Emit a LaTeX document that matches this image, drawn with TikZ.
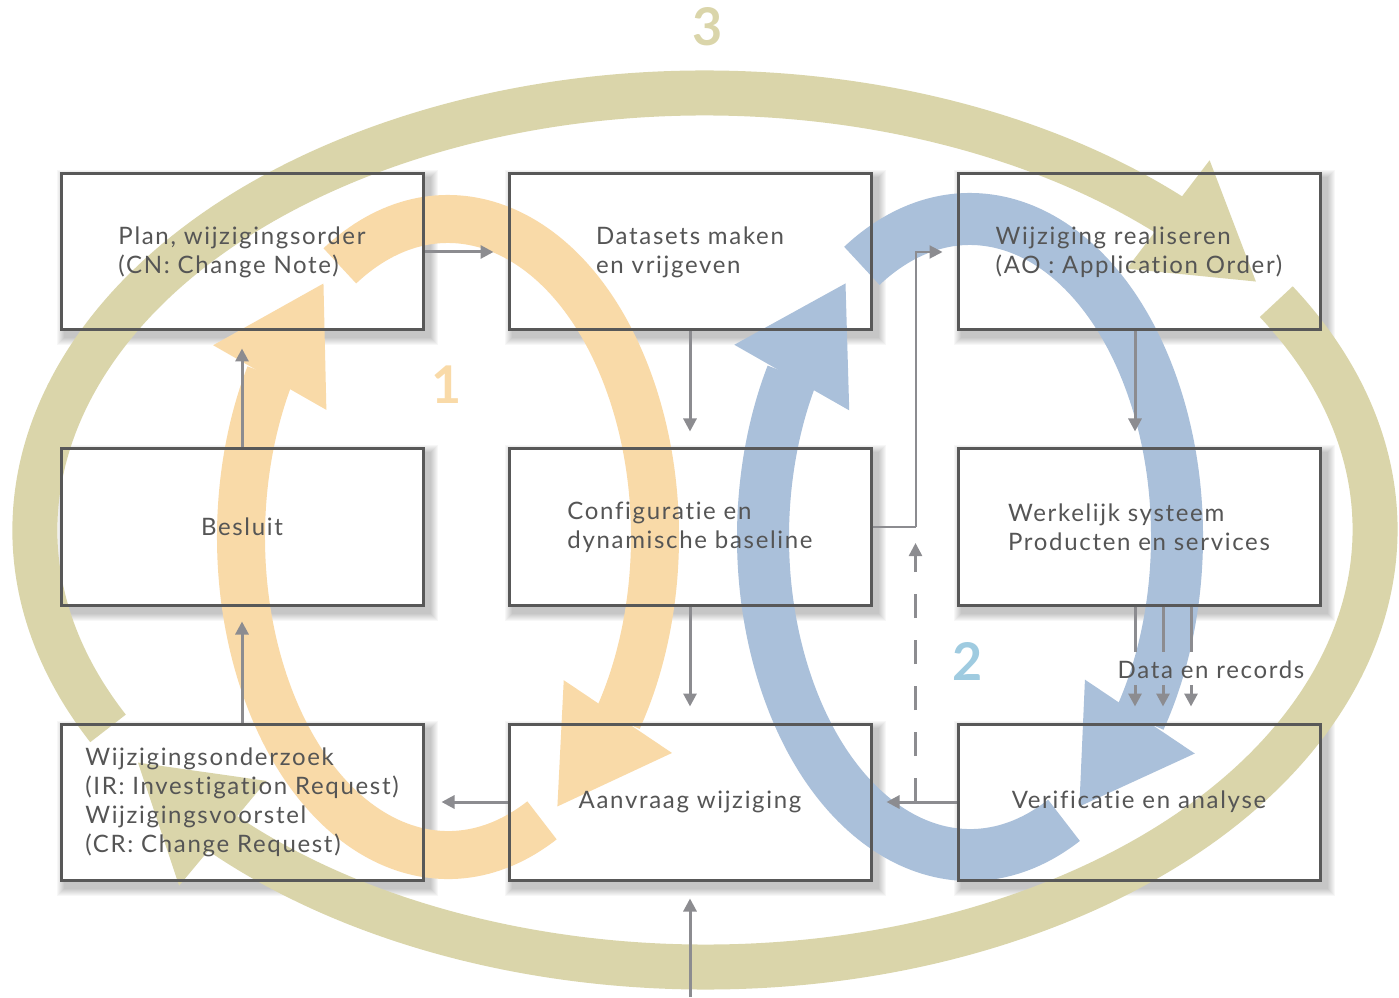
\documentclass[tikz,border=0pt]{standalone}
\usepackage{fontspec}
\setmainfont{Lato}[LetterSpace=7,Ligatures=NoCommon]
\usetikzlibrary{arrows.meta,calc,bending}
\pgfdeclarelayer{shadowl}
\pgfdeclarelayer{bandl}
\pgfdeclarelayer{frontl}
\pgfsetlayers{shadowl,main,bandl,frontl}
\definecolor{olivec}{HTML}{DAD5AA}
\definecolor{orangec}{HTML}{F9DAA8}
\definecolor{bluec}{HTML}{AAC0DA}
\definecolor{twoc}{HTML}{9FCBE0}
\definecolor{boxlc}{HTML}{585858}
\definecolor{txtc}{HTML}{555555}
\definecolor{connc}{HTML}{8C8C90}
\tikzset{
  boxnode/.style={draw=boxlc, line width=3pt, minimum width=362pt, minimum height=156pt, inner sep=0pt, align=left, text=txtc, font=\fontsize{24}{29}\selectfont},
  connarrow/.style={draw=connc, line width=3pt, -{Triangle[width=13pt,length=13pt]}},
  connline/.style={draw=connc, line width=3pt},
  bandolive/.style={draw=olivec, line width=45pt, -{Triangle[width=128pt,length=112pt,flex]}},
  bandorange/.style={draw=orangec, line width=48pt, -{Triangle[width=122pt,length=110pt,flex]}},
  bandblue/.style={draw=bluec, line width=52pt, -{Triangle[width=124pt,length=110pt,flex]}},
  numlbl/.style={font=\fontsize{52}{52}\selectfont\bfseries}
}
\begin{document}
\begin{tikzpicture}[x=1pt,y=1pt]
\useasboundingbox (0,0) rectangle (1399,997);

\begin{pgfonlayer}{frontl}
\node[boxnode] (A) at (242,745) {Plan, wijzigingsorder\\(CN: Change Note)};
\node[boxnode] (B) at (690,745) {Datasets maken\\en vrijgeven};
\node[boxnode] (C) at (1139,745) {Wijziging realiseren\\(AO : Application Order)};
\node[boxnode] (D) at (242,470) {Besluit};
\node[boxnode] (E) at (690,470) {Configuratie en\\dynamische baseline};
\node[boxnode] (F) at (1139,470) {Werkelijk systeem\\Producten en services};
\node[boxnode] (G) at (242,195) {Wijzigingsonderzoek\\(IR: Investigation Request)\\Wijzigingsvoorstel\\(CR: Change Request)};
\node[boxnode] (H) at (690,195) {Aanvraag wijziging};
\node[boxnode] (I) at (1139,195) {Verificatie en analyse};
\node[text=txtc, font=\fontsize{24}{29}\selectfont] (DR) at (1211,327) {Data en records};
\end{pgfonlayer}

% white fills
\foreach \b in {A,B,C,D,E,F,G,H,I}{
  \fill[white] (\b.south west) rectangle (\b.north east);
}

% shadows
\begin{pgfonlayer}{shadowl}
\foreach \b in {A,B,C,D,E,F,G,H,I}{
  \foreach \k in {1,...,8}{
    \fill[black, opacity=0.03] ($(\b.south west)+(5-\k,-6-\k)$) rectangle ($(\b.north east)+(5+\k,-6+\k)$);
  }
}
\end{pgfonlayer}

% big loops
\begin{pgfonlayer}{bandl}
\coordinate (O3) at (705,467);
\coordinate (O1) at (448,460);
\coordinate (O2) at (970,460);
\draw[bandolive] ($(O3)+(207:670pt and 437pt)$) arc[start angle=207, end angle=34.5, x radius=670pt, y radius=437pt];
\draw[bandolive] ($(O3)+(31.5:670pt and 437pt)$) arc[start angle=31.5, end angle=-148, x radius=670pt, y radius=437pt];
\draw[bandorange] ($(O1)+(-63:207pt and 318pt)$) arc[start angle=-63, end angle=-233.3, x radius=207pt, y radius=318pt];
\draw[bandorange] ($(O1)+(121.5:207pt and 318pt)$) arc[start angle=121.5, end angle=-58.4, x radius=207pt, y radius=318pt];
\draw[bandblue] ($(O2)+(-63:207pt and 318pt)$) arc[start angle=-63, end angle=-233.3, x radius=207pt, y radius=318pt];
\draw[bandblue] ($(O2)+(121.5:207pt and 318pt)$) arc[start angle=121.5, end angle=-58.4, x radius=207pt, y radius=318pt];
\end{pgfonlayer}

% numbers
\node[numlbl, text=olivec] (n3) at (708,970) {3};
\node[numlbl, text=orangec] (n1) at (447,612) {1};
\node[numlbl, text=twoc] (n2) at (968,336) {2};

% connectors
\begin{pgfonlayer}{frontl}
\draw[connarrow, shorten >=14pt] (A) -- (B);
\draw[connarrow, shorten >=16pt] (B) -- (E);
\draw[connarrow, shorten >=16pt] ([xshift=-4pt]C.south) -- ([xshift=-4pt]F.north);
\coordinate (X) at ($(E.east)+(43,0)$);
\draw[connline, line width=2pt] (E.east) -- (X);
\draw[connarrow, line width=2pt, shorten >=14pt] (X) |- (C.west);
\draw[connarrow, shorten >=16pt] (E) -- (H);
\draw[connarrow, shorten >=14pt] (I) -- (H);
\draw[connarrow, shorten >=17pt] (H) -- (G);
\draw[connarrow, shorten >=17pt] (D) -- (A);
\draw[connarrow, shorten >=15pt] (G) -- (D);
\coordinate (inp) at (690,0);
\draw[connarrow, shorten >=17pt] (inp) -- (H);
\draw[connarrow, line width=2.5pt, dash pattern=on 24pt off 22pt, shorten >=16pt] (X |- I.west) -- (X);
\foreach \xx [count=\i] in {1135,1163,1191}{
  \coordinate (d\i) at (\xx,345);
  \coordinate (e\i) at (\xx,312);
  \draw[connline] (F.south -| d\i) -- (d\i);
  \draw[connarrow, shorten >=16pt] (e\i) -- (e\i |- I.north);
}
\end{pgfonlayer}
\end{tikzpicture}
\end{document}
